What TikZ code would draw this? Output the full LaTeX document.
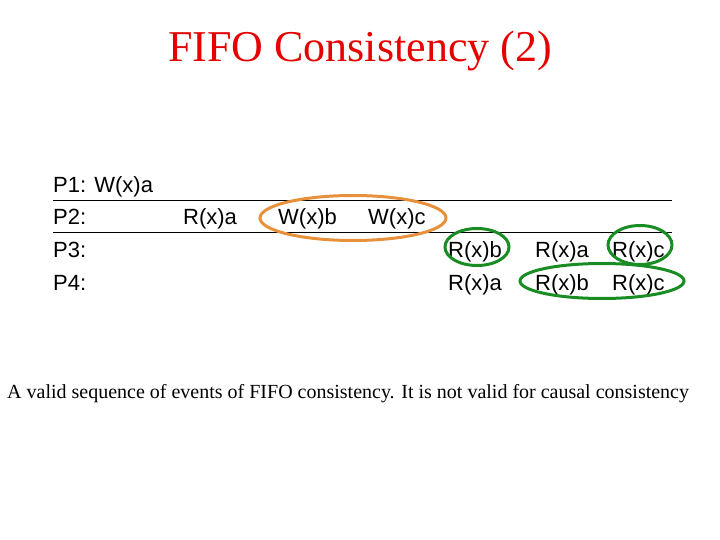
\documentclass[tikz,border=0pt]{standalone}
\usepackage{fontspec}
\setmainfont{Liberation Serif}
\newfontfamily\arialfont{Liberation Sans}
\usetikzlibrary{shapes.geometric}
\definecolor{titlered}{RGB}{230,0,0}
\definecolor{ringorange}{RGB}{232,145,60}
\definecolor{ringgreen}{RGB}{25,140,35}
\tikzset{
  ev/.style={anchor=base west, inner sep=0pt, font=\arialfont\fontsize{22}{26}\selectfont},
  ring/.style={ellipse, draw, line width=3pt, inner sep=0pt},
  rowline/.style={line width=0.9pt, black}
}
\begin{document}
\begin{tikzpicture}[x=1pt,y=-1pt]
\useasboundingbox (0,0) rectangle (720,540);
\node[anchor=base, inner sep=0pt, text=titlered, font=\fontsize{44}{50}\selectfont] (title) at (360,62) {FIFO Consistency (2)};
% row lines
\coordinate (l1a) at (53,200); \coordinate (l1b) at (672,200);
\coordinate (l2a) at (53,232); \coordinate (l2b) at (672,232);
\draw[rowline] (l1a) -- (l1b);
\draw[rowline] (l2a) -- (l2b);
% events
\node[ev] (p1) at (53,193) {P1: W(x)a};
\node[ev] (p2) at (53,225) {P2:};
\node[ev] (p3) at (53,258) {P3:};
\node[ev] (p4) at (53,290) {P4:};
\node[ev] (p2ra) at (183,225) {R(x)a};
\node[ev] (p2wb) at (278,225) {W(x)b};
\node[ev] (p2wc) at (368,225) {W(x)c};
\node[ev] (p3rb) at (448,258) {R(x)b};
\node[ev] (p3ra) at (535,258) {R(x)a};
\node[ev] (p3rc) at (612,258) {R(x)c};
\node[ev] (p4ra) at (448,290) {R(x)a};
\node[ev] (p4rb) at (535,290) {R(x)b};
\node[ev] (p4rc) at (612,290) {R(x)c};
% rings
\node[ring, draw=ringorange, minimum width=186, minimum height=45] (o1) at (353,218) {};
\node[ring, draw=ringgreen, minimum width=64, minimum height=37] (g1) at (477,247) {};
\node[ring, draw=ringgreen, minimum width=64, minimum height=39] (g2) at (640,245) {};
\node[ring, draw=ringgreen, minimum width=164, minimum height=35] (g3) at (602,281) {};
% caption
\node[anchor=base west, inner sep=0pt, font=\fontsize{20}{23}\selectfont] (cap) at (7,398) {A valid sequence of events of FIFO consistency. It is not valid for causal consistency};
\end{tikzpicture}
\end{document}
